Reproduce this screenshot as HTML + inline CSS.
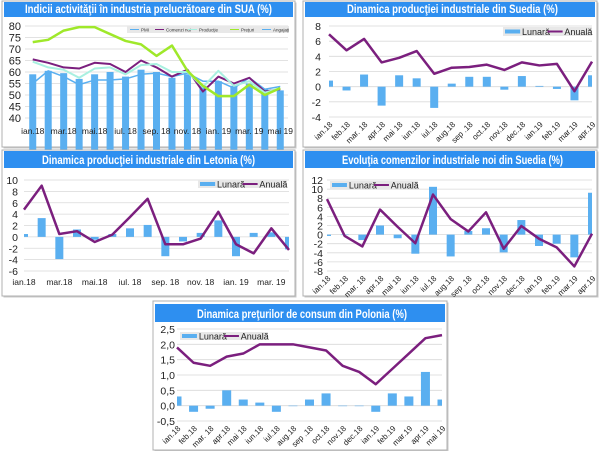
<!DOCTYPE html>
<html><head><meta charset="utf-8"><style>
html,body{margin:0;padding:0;background:#fff;}
svg{display:block;font-family:"Liberation Sans",sans-serif;}
</style></head><body>
<svg id="s" width="600" height="451" xmlns="http://www.w3.org/2000/svg"></svg>
<script>
const S=document.getElementById('s');let h='';
const BL='#5aaff0',PU='#7b1f7e';
function box(x0,y0,x1,y1,ty0,ty1,title,tx0,tx1){
 h+=`<rect x="${x0+1.5}" y="${y0+1.5}" width="${x1-x0}" height="${y1-y0}" fill="#c8c8c8"/>`;
 h+=`<rect x="${x0}" y="${y0}" width="${x1-x0}" height="${y1-y0}" fill="#fff" stroke="#b0b0b0" stroke-width="1"/>`;
 h+=`<rect x="${x0+2}" y="${ty0}" width="${x1-x0-4}" height="${ty1-ty0}" fill="#2e8ff0"/>`;
 h+=`<text x="${tx0}" y="${ty1-4}" fill="#fff" font-weight="bold" font-size="12" textLength="${tx1-tx0}" lengthAdjust="spacingAndGlyphs">${title}</text>`;
}
function chart(o){
 const sc=(o.yb-o.yt)/(o.vmax-o.vmin),Y=v=>o.yt+(o.vmax-v)*sc;
 const n=o.n,X=i=>o.edge?o.x0+i*(o.x1-o.x0)/(n-1):o.x0+(i+0.5)*(o.x1-o.x0)/n;
 for(let v=o.vmin;v<=o.vmax+1e-9;v+=o.step){
  h+=`<line x1="${o.x0}" x2="${o.x1}" y1="${Y(v)}" y2="${Y(v)}" stroke="#d9d9d9" stroke-width="0.8"/>`;
  let t=o.dec?v.toFixed(1).replace('.',','):Math.round(v);
  h+=`<text x="${o.lx}" y="${Y(v)+4}" font-size="${o.fs||10.5}" text-anchor="end" fill="#222">${t}</text>`;
 }
 if(o.bars){h+=`<svg x="${o.x0}" y="0" width="${o.x1-o.x0}" height="451" overflow="hidden"><g transform="translate(${-o.x0},0)">`;
  o.bars.forEach((v,i)=>{const a=Y(Math.max(v,0)),b=Y(Math.min(v,0));h+=`<rect x="${X(i)-o.bw/2}" y="${a}" width="${o.bw}" height="${Math.max(b-a,0.5)}" fill="${BL}"/>`;});
  h+='</g></svg>';}
 (o.lines||[]).forEach(l=>{h+=`<polyline fill="none" stroke="${l.c}" stroke-width="${l.w}" stroke-linejoin="round" points="${l.d.map((v,i)=>X(i)+','+Y(v)).join(' ')}"/>`;});
 (o.xl||[]).forEach((t,i)=>{if(!t)return;const x=X(i);
  if(o.rot)h+=`<text transform="translate(${x+4},${o.yb+8}) rotate(-45)" font-size="8" text-anchor="end" fill="#222">${t}</text>`;
  else h+=`<text x="${x}" y="${o.xy}" font-size="8.5" text-anchor="middle" fill="#222">${t}</text>`;});
}
function leg(x0,y0,x1,y1){
 h+=`<rect x="${x0}" y="${y0}" width="${x1-x0}" height="${y1-y0}" fill="#e8e8e8"/>`;
 const m=(y0+y1)/2,w=x1-x0;
 h+=`<rect x="${x0+2}" y="${m-2}" width="${w*0.17}" height="4" fill="${BL}"/><text x="${x0+3+w*0.18}" y="${m+3.5}" font-size="9" fill="#222">Lunară</text>`;
 h+=`<line x1="${x0+w*0.5}" x2="${x0+w*0.67}" y1="${m}" y2="${m}" stroke="${PU}" stroke-width="2"/><text x="${x0+w*0.69}" y="${m+3.5}" font-size="9" fill="#222">Anuală</text>`;
}
// Panel 1
box(2,1,295,147,2,17,'Indicii activităţii în industria prelucrătoare din SUA (%)',25,272);
chart({x0:25,x1:288,yt:26,yb:118,vmin:40,vmax:80,step:5,lx:21,fs:11,n:17,bw:7,xy:134,
 bars:[59,60.5,59.5,57,59,60,58,61,60,57.5,59,54,56,54,55,52.5,52],
 lines:[{c:'#5aaff0',w:1.5,d:[55,60.5,58,54.5,56.5,56.5,57,59,59.5,58,59.5,56,56,53,57.5,52.5,53.7]},
 {c:PU,w:2,d:[65.5,64,62,61.5,64,63.5,60,65,62,58,61,51.5,58,55,57.5,51.5,52.5]},
 {c:'#a8f0e0',w:2,d:[64.5,62,61,57.5,61.5,62,59,63,63.5,60,60,53.5,60.5,54,56,51,53]},
 {c:'#9fe82a',w:2.5,d:[73,74,78,79.5,79.5,76.5,73.5,72,67,71.5,60.5,54,49.5,49.5,54.5,50,53]}],
 xl:['ian.18','','mar.18','','mai.18','','iul. 18','','sep. 18','','nov. 18','','ian. 19','','mar. 19','','mai 19']});
h+=`<rect x="127" y="26" width="162" height="7" fill="#e8e8e8"/>`;
[[130,'#5aaff0','PMI'],[155,PU,'Comenzi noi'],[188,'#a8f0e0','Producţie'],[230,'#9fe82a','Preţuri'],[262,'#5aaff0','Angajaţi']].forEach(([x,c,t])=>{h+=`<line x1="${x}" x2="${x+9}" y1="29.5" y2="29.5" stroke="${c}" stroke-width="1"/><text x="${x+11}" y="31.5" font-size="4.5" fill="#333">${t}</text>`;});
// Panel 2
box(303,1,597,147,2,17,'Dinamica producţiei industriale din Suedia (%)',347,558);
chart({x0:329,x1:592,edge:1,yt:26,yb:117,vmin:-4,vmax:8,step:2,lx:321,n:16,bw:8,rot:1,
 bars:[0.8,-0.5,1.6,-2.5,1.5,1.1,-2.8,0.4,1.3,1.3,-0.4,1.4,0.1,-0.3,-1.8,1.5],
 lines:[{c:PU,w:2.5,d:[6.9,4.8,6.3,3.2,3.8,4.7,1.7,2.5,2.6,2.9,2.2,3.2,2.8,3.0,-0.6,3.3]}],
 xl:['ian.18','feb.18','mar. 18','apr.18','mai 18','iun.18','iul.18','aug.18','sep .18','oct.18','nov.18','dec.18','ian.19','feb.19','mar.19','apr.19']});
leg(503,27,592,36);
// Panel 3
box(2,150,295,296,151,168,'Dinamica producţiei industriale din Letonia (%)',42,255);
chart({x0:24,x1:289,edge:1,yt:180,yb:271,vmin:-6,vmax:10,step:2,lx:18,n:16,bw:8,xy:285,
 bars:[0.5,3.3,-3.9,1.3,-0.5,0.5,1.5,2.1,-3.4,-0.8,0.7,2.9,-3.4,0.7,0.8,-2.2],
 lines:[{c:PU,w:2.5,d:[4.8,9.0,0.5,1.0,-0.9,0.4,3.5,6.7,-1.3,-1.3,-0.3,4.4,-1.3,-2.9,1.5,-2.3]}],
 xl:['ian.18','','mar.18','','mai.18','','iul. 18','','sep. 18','','nov. 18','','ian. 19','','mar. 19','']});
leg(198,180,287,188);
// Panel 4
box(303,150,597,296,151,168,'Evoluţia comenzilor industriale noi din Suedia (%)',342,563);
chart({x0:327,x1:592,edge:1,yt:180,yb:271,vmin:-8,vmax:12,step:2,lx:323,n:16,bw:8,rot:1,
 bars:[-0.3,0,-1.2,2.0,-0.8,-4.2,10.5,-4.8,0.8,1.4,-3.9,3.2,-2.5,-2.0,-5.0,9.2],
 lines:[{c:PU,w:2.5,d:[7.8,-0.3,-2.6,5.5,1.7,-1.9,8.8,3.4,0.7,4.9,-3.1,1.9,-0.9,-2.8,-7.0,0.2]}],
 xl:['ian.18','feb.18','mar. 18','apr.18','mai 18','iun.18','iul.18','aug.18','sep .18','oct.18','nov.18','dec.18','ian.19','feb.19','mar.19','apr.19']});
leg(330,181,418,189);
// Panel 5
box(153,301,447,450,304,322,'Dinamica preţurilor de consum din Polonia (%)',197,407);
chart({x0:177,x1:442,edge:1,yt:329,yb:421,vmin:-0.5,vmax:2.5,step:0.5,dec:1,lx:175,n:17,bw:9,rot:1,
 bars:[0.3,-0.2,-0.1,0.5,0.2,0.1,-0.2,0,0.2,0.4,0,0,-0.2,0.4,0.3,1.1,0.2],
 lines:[{c:PU,w:2.5,d:[1.9,1.4,1.3,1.6,1.7,2.0,2.0,2.0,1.9,1.8,1.3,1.1,0.7,1.2,1.7,2.2,2.3]}],
 xl:['ian.18','feb.18','mar. 18','apr.18','mai 18','iun.18','iul.18','aug.18','sep .18','oct.18','nov.18','dec.18','ian.19','feb.19','mar.19','apr.19','mai 19']});
leg(180,332,268,340);
S.innerHTML=h;
</script>
</body></html>
